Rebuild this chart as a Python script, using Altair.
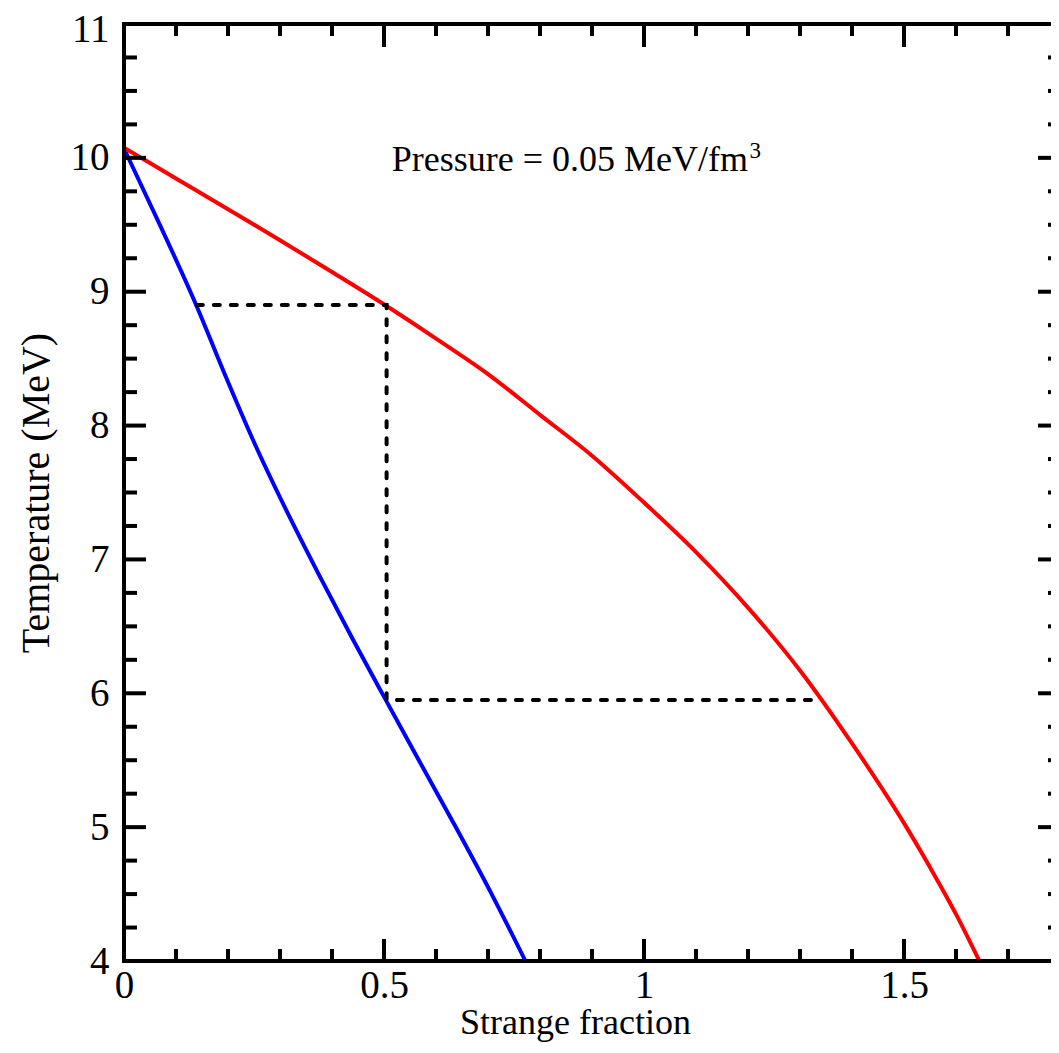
import altair as alt
import pandas as pd

# ---- data ----
blue_x = [0.0, 0.069, 0.14, 0.192, 0.249, 0.308, 0.373, 0.4405, 0.502, 0.567, 0.631, 0.707, 0.772]
blue_t = [10.07, 9.5, 8.89, 8.4, 7.885, 7.4, 6.9, 6.4, 5.96, 5.5, 5.05, 4.5, 4.0]

red_x = [0.0, 0.1, 0.2, 0.3, 0.4, 0.505, 0.6, 0.7, 0.8, 0.9, 1.0, 1.1, 1.2, 1.3, 1.4, 1.5, 1.55, 1.6, 1.645]
red_t = [10.076, 9.846, 9.616, 9.385, 9.147, 8.893, 8.65, 8.385, 8.08, 7.775, 7.425, 7.055, 6.64, 6.17,
         5.625, 5.03, 4.7, 4.35, 4.0]

guide_x = [0.14, 0.505, 0.505, 1.342]
guide_t = [8.9, 8.9, 5.95, 5.95]

x_major = [0, 0.5, 1, 1.5]
x_minor = [0.1, 0.2, 0.3, 0.4, 0.6, 0.7, 0.8, 0.9, 1.1, 1.2, 1.3, 1.4, 1.6, 1.7]
y_major = [4, 5, 6, 7, 8, 9, 10, 11]
y_minor = [4.25, 4.5, 4.75, 5.25, 5.5, 5.75, 6.25, 6.5, 6.75, 7.25, 7.5, 7.75,
           8.25, 8.5, 8.75, 9.25, 9.5, 9.75, 10.25, 10.5, 10.75]
x_domain = [0, 1.8]
y_domain = [4, 11]

note_text = ["Pressure = 0.05 MeV/fm"]
note_x = [0.515]
note_t = [9.905]
sup_text = ["3"]
sup_x = [1.203]
sup_t = [10.0]

# ---- layout constants ----
W_FULL, H = 936, 937      # full plot frame (right edge falls just past the page)
W_VIEW = 927              # visible part of the plot that fits the page
FONT = "Liberation Serif"

xs = alt.Scale(domain=x_domain, range=[0, W_FULL], nice=False, zero=False)
ys = alt.Scale(domain=y_domain, nice=False, zero=False)

x_axis = alt.Axis(values=x_major, format="~g", ticks=False, tickSize=0, domain=False, grid=False,
                  labelFlush=False, labelFont=FONT, labelFontSize=39, labelColor="black", labelPadding=5,
                  title="Strange fraction", titleFont=FONT, titleFontSize=36,
                  titleFontWeight="normal", titleColor="black", titlePadding=0,
                  titleX=451, titleAlign="center")
y_axis = alt.Axis(values=y_major, format="d", ticks=False, tickSize=0, domain=False, grid=False,
                  labelFlush=False, labelFont=FONT, labelFontSize=39, labelColor="black", labelPadding=15,
                  labelOffset={"condition": {"test": "datum.value == 11", "value": 5}, "value": 0},
                  title="Temperature (MeV)", titleFont=FONT, titleFontSize=40,
                  titleFontWeight="normal", titleColor="black", titlePadding=14)

def X(f):
    return alt.X(f, scale=xs, axis=x_axis)

def Y(f):
    return alt.Y(f, scale=ys, axis=y_axis)

curves = pd.DataFrame({
    "x": blue_x + red_x,
    "t": blue_t + red_t,
    "s": ["blue"] * len(blue_x) + ["red"] * len(red_x),
    "o": list(range(len(blue_x))) + list(range(len(red_x))),
})
guide = pd.DataFrame({"x": guide_x, "t": guide_t, "o": list(range(len(guide_x)))})

lines = alt.Chart(curves).mark_line(strokeWidth=4, interpolate="monotone").encode(
    x=X("x:Q"), y=Y("t:Q"),
    color=alt.Color("s:N", scale=alt.Scale(domain=["blue", "red"], range=["#0000ff", "#ff0000"]), legend=None),
    detail="s:N",
    order="o:Q",
)

dotted = alt.Chart(guide).mark_line(strokeWidth=4, color="black", strokeDash=[6, 11], strokeCap="round").encode(
    x=X("x:Q"), y=Y("t:Q"), order="o:Q",
)

def yticks(vals, length, side):
    d = pd.DataFrame({"v": vals})
    x0, x1 = (0, length) if side == "left" else (W_FULL - length, W_FULL)
    return alt.Chart(d).mark_rule(strokeWidth=4, color="black").encode(
        y=Y("v:Q"), x=alt.value(x0), x2=alt.value(x1))

def xticks(vals, length, side):
    d = pd.DataFrame({"v": vals})
    y0, y1 = (H - length, H) if side == "bottom" else (0, length)
    return alt.Chart(d).mark_rule(strokeWidth=4, color="black").encode(
        x=X("v:Q"), y=alt.value(y0), y2=alt.value(y1))

ticks = [
    yticks(y_major, 22, "left"), yticks(y_minor, 13, "left"),
    yticks(y_major, 22, "right"), yticks(y_minor, 12, "right"),
    xticks(x_major, 22, "bottom"), xticks(x_minor, 12, "bottom"),
    xticks(x_major, 23, "top"), xticks(x_minor, 12, "top"),
]

# frame (spines) placed through the scales
frame_v = alt.Chart(pd.DataFrame({"v": x_domain})).mark_rule(strokeWidth=4, color="black").encode(
    x=X("v:Q"), y=alt.value(0), y2=alt.value(H))
frame_h = alt.Chart(pd.DataFrame({"v": y_domain})).mark_rule(strokeWidth=4, color="black").encode(
    y=Y("v:Q"), x=alt.value(-2), x2=alt.value(W_FULL + 2))

note = alt.Chart(pd.DataFrame({"x": note_x, "t": note_t, "txt": note_text})).mark_text(
    font=FONT, fontSize=36, align="left", baseline="alphabetic", color="black").encode(
    x=X("x:Q"), y=Y("t:Q"), text="txt:N")
sup = alt.Chart(pd.DataFrame({"x": sup_x, "t": sup_t, "txt": sup_text})).mark_text(
    font=FONT, fontSize=23, align="left", baseline="alphabetic", color="black").encode(
    x=X("x:Q"), y=Y("t:Q"), text="txt:N")

chart = alt.layer(lines, dotted, *ticks, frame_v, frame_h, note, sup).properties(
    width=W_VIEW, height=H,
    autosize=alt.AutoSizeParams(type="none"),
    padding={"left": 116, "top": 16, "right": 0, "bottom": 84},
    background="white",
).configure_view(strokeWidth=0)

chart.save("out.html", embed_options={"renderer": "svg", "actions": False})
